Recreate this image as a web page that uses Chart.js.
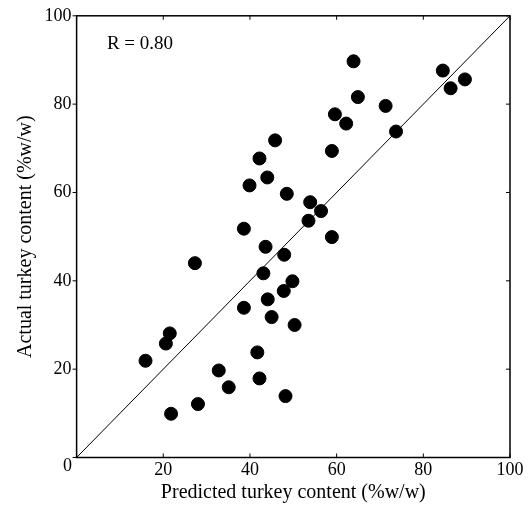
<!DOCTYPE html>
<html>
<head>
<meta charset="utf-8">
<script src="https://cdn.jsdelivr.net/npm/chart.js@4"></script>
<style>
  html, body { margin: 0; padding: 0; background: #fff; }
  #wrap { width: 531px; height: 505px; }
</style>
</head>
<body>
<div id="wrap"><canvas id="grafico"></canvas></div>
<script>
// datos
const predicted = [45.8, 42.2, 44.0, 39.9, 48.5, 38.6,
    63.9, 84.5, 89.6, 86.3, 64.9, 71.3, 59.6, 62.2, 73.7, 58.9, 53.9, 56.4, 53.5, 58.9,
    43.6, 47.9, 27.3, 43.1, 49.8, 47.8, 44.1, 38.6, 45.0, 50.3, 21.5, 20.6, 41.7, 15.9,
    32.8, 42.2, 35.1, 48.2, 28.0, 21.8];
const actual = [71.8, 67.7, 63.4, 61.6, 59.7, 51.8,
    89.7, 87.6, 85.6, 83.6, 81.6, 79.6, 77.7, 75.6, 73.8, 69.4, 57.8, 55.8, 53.6, 49.9,
    47.7, 45.9, 44.0, 41.7, 39.9, 37.7, 35.8, 33.9, 31.8, 30.0, 28.1, 25.8, 23.8, 21.9,
    19.7, 17.9, 15.9, 13.9, 12.1, 9.9];
const lineX = [0, 100];
const lineY = [0, 100];
const tickValues = [0, 20, 40, 60, 80, 100];
const rLabel = 'R = 0.80';

const fuente = '"Liberation Serif", "DejaVu Serif", serif';

// marco y marcas hacia dentro
const marco = {
    id: 'marco',
    afterDraw(chart) {
        const ctx = chart.ctx;
        const a = chart.chartArea;
        const xs = chart.scales.x, ys = chart.scales.y;
        ctx.save();
        ctx.strokeStyle = '#000';
        ctx.lineWidth = 1.5;
        ctx.strokeRect(a.left, a.top, a.right - a.left, a.bottom - a.top);
        ctx.lineWidth = 1;
        tickValues.forEach(v => {
            const px = xs.getPixelForValue(v);
            const py = ys.getPixelForValue(v);
            ctx.beginPath();
            ctx.moveTo(px, a.bottom); ctx.lineTo(px, a.bottom - 4);
            ctx.moveTo(px, a.top); ctx.lineTo(px, a.top + 4);
            ctx.moveTo(a.left - 4, py); ctx.lineTo(a.left, py);
            ctx.moveTo(a.right, py); ctx.lineTo(a.right - 4, py);
            ctx.stroke();
        });
        ctx.fillStyle = '#000';
        ctx.font = '19px ' + fuente;
        ctx.textBaseline = 'middle';
        ctx.textAlign = 'left';
        ctx.fillText(rLabel, xs.getPixelForValue(7), ys.getPixelForValue(93.5));
        ctx.font = '18px ' + fuente;
        ctx.textAlign = 'center';
        ctx.fillText('0', a.left - 9, a.bottom + 9);
        ctx.restore();
    }
};

new Chart(document.getElementById('grafico'), {
    data: {
        datasets: [{
            type: 'scatter',
            data: predicted.map((x, i) => ({ x: x, y: actual[i] })),
            backgroundColor: '#000',
            borderColor: '#000',
            pointRadius: 6.5,
            pointHoverRadius: 6.5
        }, {
            type: 'line',
            data: lineX.map((x, i) => ({ x: x, y: lineY[i] })),
            borderColor: '#000',
            borderWidth: 1,
            pointRadius: 0,
            fill: false
        }]
    },
    plugins: [marco],
    options: {
        responsive: true,
        maintainAspectRatio: false,
        animation: false,
        layout: { padding: { left: 10, right: 21, top: 15, bottom: 0 } },
        plugins: { legend: { display: false }, tooltip: { enabled: false } },
        scales: {
            x: {
                type: 'linear', min: 0, max: 100,
                afterBuildTicks: s => { s.ticks = tickValues.map(v => ({ value: v })); },
                afterFit: s => { s.height = 47.5; },
                grid: { display: false, drawTicks: false },
                border: { display: false },
                ticks: {
                    color: '#000', font: { family: fuente, size: 18 }, padding: 2,
                    callback: v => v === 0 ? '' : v
                },
                title: {
                    display: true, text: 'Predicted turkey content (%w/w)', color: '#000',
                    font: { family: fuente, size: 20 }, padding: { top: 2, bottom: 0 }
                }
            },
            y: {
                type: 'linear', min: 0, max: 100,
                afterBuildTicks: s => { s.ticks = tickValues.map(v => ({ value: v })); },
                afterFit: s => { s.width = 66.6; },
                grid: { display: false, drawTicks: false },
                border: { display: false },
                ticks: {
                    color: '#000', font: { family: fuente, size: 18 }, padding: 5,
                    callback: v => v === 0 ? '' : v
                },
                title: {
                    display: true, text: 'Actual turkey content (%w/w)', color: '#000',
                    font: { family: fuente, size: 20 }, padding: { top: 4, bottom: 0 }
                }
            }
        }
    }
});
</script>
</body>
</html>
